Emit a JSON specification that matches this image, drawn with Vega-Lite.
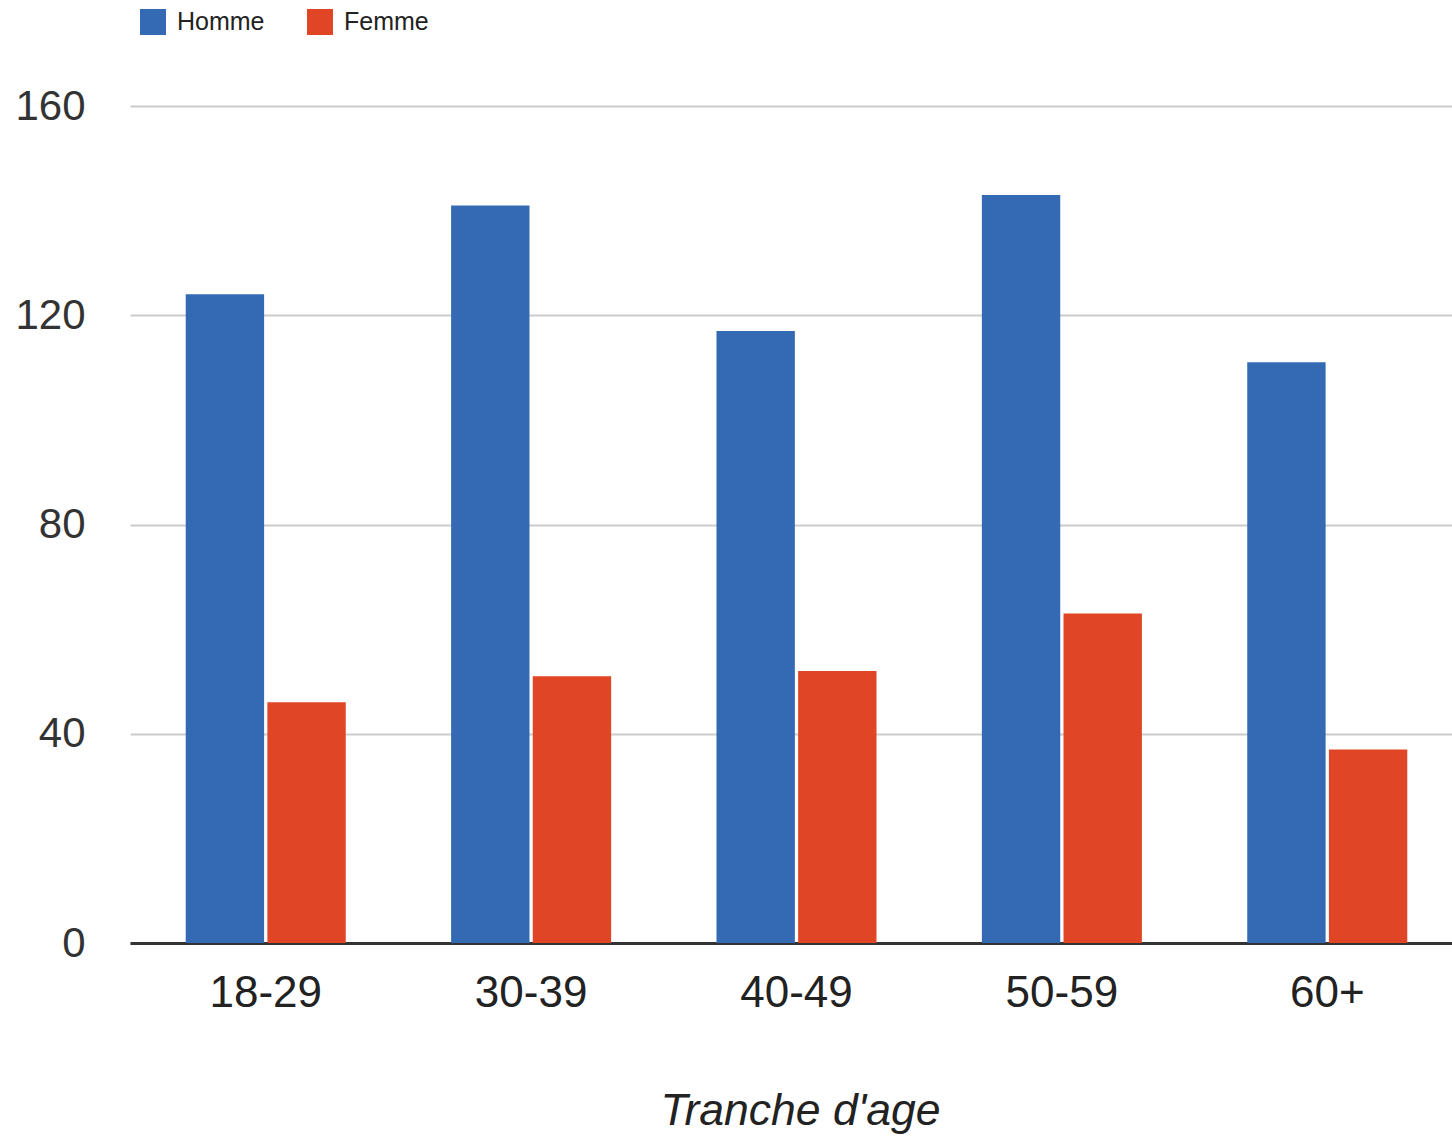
{
  "$schema": "https://vega.github.io/schema/vega-lite/v6.json",
  "width": 1322,
  "height": 837,
  "autosize": {"type": "none"},
  "padding": {"left": 130, "top": 106, "right": 0, "bottom": 193},
  "background": "white",
  "config": {
    "view": {"stroke": null},
    "font": "Liberation Sans"
  },
  "data": {
    "values": [
      {"tranche": "18-29", "sexe": "Homme", "n": 124},
      {"tranche": "18-29", "sexe": "Femme", "n": 46},
      {"tranche": "30-39", "sexe": "Homme", "n": 141},
      {"tranche": "30-39", "sexe": "Femme", "n": 51},
      {"tranche": "40-49", "sexe": "Homme", "n": 117},
      {"tranche": "40-49", "sexe": "Femme", "n": 52},
      {"tranche": "50-59", "sexe": "Homme", "n": 143},
      {"tranche": "50-59", "sexe": "Femme", "n": 63},
      {"tranche": "60+", "sexe": "Homme", "n": 111},
      {"tranche": "60+", "sexe": "Femme", "n": 37}
    ]
  },
  "mark": {"type": "bar"},
  "encoding": {
    "x": {
      "field": "tranche",
      "type": "nominal",
      "sort": null,
      "scale": {"range": [0, 1333], "paddingInner": 0.397, "paddingOuter": 0.21},
      "axis": {
        "title": "Tranche d'age",
        "titleFontSize": 44.5,
        "titleFontStyle": "italic",
        "titleFontWeight": "normal",
        "titleColor": "#222",
        "titlePadding": 74,
        "titleX": 670,
        "labelAngle": 0,
        "labelFontSize": 44,
        "labelColor": "#222",
        "labelPadding": 28,
        "ticks": false,
        "domainColor": "#333",
        "domainWidth": 3
      }
    },
    "xOffset": {
      "field": "sexe",
      "type": "nominal",
      "sort": ["Homme", "Femme"],
      "scale": {"paddingInner": 0.04, "paddingOuter": 0}
    },
    "y": {
      "field": "n",
      "type": "quantitative",
      "scale": {"domain": [0, 160]},
      "axis": {
        "title": null,
        "values": [0, 40, 80, 120, 160],
        "labelFontSize": 42,
        "labelColor": "#333",
        "labelPadding": 45,
        "ticks": false,
        "domain": false,
        "gridColor": "#cccccc",
        "gridWidth": 2
      }
    },
    "color": {
      "field": "sexe",
      "type": "nominal",
      "sort": ["Homme", "Femme"],
      "scale": {"domain": ["Homme", "Femme"], "range": ["#336AB3", "#E04525"]},
      "legend": {
        "title": null,
        "orient": "none",
        "direction": "horizontal",
        "legendX": 10,
        "legendY": -97,
        "symbolType": "square",
        "symbolSize": 676,
        "symbolStrokeWidth": 0,
        "labelFontSize": 25,
        "labelColor": "#222",
        "labelOffset": 11,
        "columnPadding": 42
      }
    }
  }
}
